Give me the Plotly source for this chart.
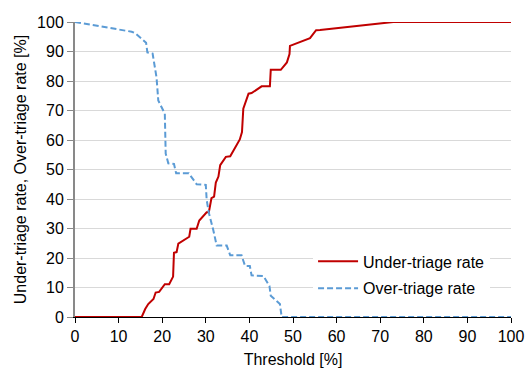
import plotly.graph_objects as go

under_x = [0, 15.3, 16.1, 16.8, 18.0, 18.5, 19.3, 20.6, 21.6, 22.5, 22.7, 23.3, 23.7, 26.2, 26.5, 27.9, 28.5, 30.2, 30.7,
           31.3, 31.9, 32.3, 32.9, 33.3, 34.6, 35.6, 37.8, 38.3, 38.6, 39.8, 40.5, 42.8, 44.7, 44.9, 47.2, 48.6, 49.2,
           49.3, 53.9, 55.3, 56.2, 73.0, 100]
under_y = [0, 0, 2.7, 4.4, 6.1, 8.3, 8.5, 11.1, 11.1, 13.7, 21.8, 22.0, 24.9, 27.2, 29.9, 29.9, 32.7, 35.5, 35.5,
           40.3, 40.8, 45.6, 47.6, 51.5, 54.3, 54.5, 60.2, 62.7, 70.6, 75.7, 75.9, 78.2, 78.2, 83.8, 83.8, 86.3, 89.1,
           91.9, 94.5, 97.2, 97.3, 100, 100]

over_x = [0, 13.0, 13.8, 16.3, 16.6, 17.8, 18.7, 19.1, 20.6, 20.8, 21.4, 22.7, 23.2, 26.1, 27.9, 30.0, 30.2, 30.7,
          31.7, 32.5, 34.8, 35.6, 38.2, 39.0, 40.1, 40.5, 43.2, 44.6, 44.9, 47.0, 47.4, 100]
over_y = [100, 96.7, 96.2, 93.0, 89.7, 89.3, 81.2, 73.4, 68.9, 55.4, 52.1, 51.9, 48.7, 48.7, 45.0, 44.8, 39.7, 35.3,
          29.6, 24.2, 24.2, 20.9, 20.9, 17.3, 17.3, 14.1, 13.9, 10.5, 7.2, 4.4, 0, 0]

tick_vals = list(range(0, 101, 10))

FONT = "Liberation Sans, Arial, sans-serif"

fig = go.Figure()
fig.add_trace(go.Scatter(x=under_x, y=under_y, mode="lines", name="Under-triage rate", legendgroup="u",
                         line=dict(color="#C00000", width=2)))
fig.add_trace(go.Scatter(x=over_x, y=over_y, mode="lines", name="Over-triage rate", legendgroup="o",
                         line=dict(color="#5B9BD5", width=2, dash="6px,3px")))

fig.update_layout(
    width=525, height=369,
    margin=dict(l=75, r=14, t=22, b=52),
    paper_bgcolor="white", plot_bgcolor="white",
    font=dict(family=FONT, size=16, color="#000000"),
    legend=dict(x=0.546, xanchor="left", y=0.246, yanchor="top", bgcolor="white",
                font=dict(size=16), itemwidth=40, tracegroupgap=3),
    xaxis=dict(range=[0, 100], tickvals=tick_vals, showgrid=False, zeroline=False,
               showline=True, linecolor="#000000", linewidth=1, automargin=False,
               ticks="outside", ticklen=5, tickcolor="#000000", tickfont=dict(size=16),
               title=dict(text="Threshold [%]", standoff=9, font=dict(size=16))),
    yaxis=dict(range=[0, 100], tickvals=tick_vals, showgrid=True, gridcolor="#D9D9D9", gridwidth=1,
               zeroline=False, showline=True, linecolor="#898989", linewidth=2, automargin=False,
               ticks="outside", ticklen=6, tickcolor="#898989", tickfont=dict(size=16),
               title=dict(text="Under-triage rate, Over-triage rate [%]", standoff=6, font=dict(size=16))),
    showlegend=True,
)

fig.write_html("out.html", config={"displayModeBar": False},
               post_script="document.body.style.margin='0';document.body.style.overflow='hidden';")
